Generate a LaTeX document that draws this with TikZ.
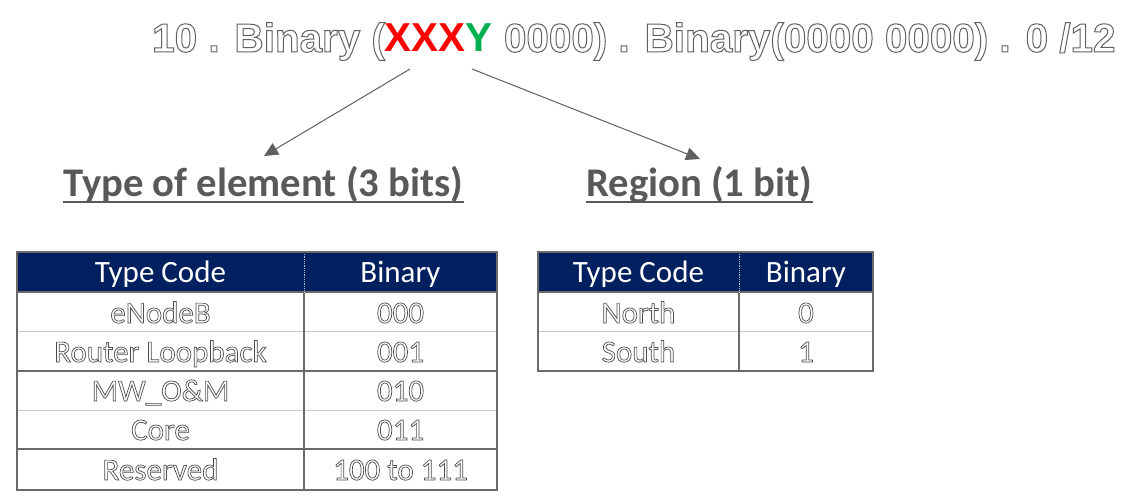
\documentclass[tikz,border=0pt]{standalone}
\usepackage{fontspec}
\setmainfont{Carlito}
\newfontfamily\titlefont{Liberation Sans}
\usetikzlibrary{arrows.meta}
\definecolor{navy}{HTML}{002060}
\definecolor{xred}{HTML}{FF0000}
\definecolor{xgreen}{HTML}{00B050}
\definecolor{headgray}{HTML}{595959}
\definecolor{arrowgray}{HTML}{606060}
\definecolor{darkline}{HTML}{6A6A6A}
\definecolor{lightline}{HTML}{C8C8C8}
\newcommand{\oltext}[3]{{\color{white}\special{pdf:literal direct q 2 Tr #1 w #2 #2 #2 RG}#3\special{pdf:literal direct Q}}}
\tikzset{
  titletext/.style={anchor=base west, inner sep=0pt, font=\titlefont\bfseries\fontsize{40.4}{41}\selectfont},
  heading/.style={anchor=base west, inner sep=0pt, text=headgray, font=\bfseries\fontsize{40.7}{41}\selectfont},
  headcell/.style={anchor=base, inner sep=0pt, text=white, font=\fontsize{31}{31}\selectfont},
  bodycell/.style={anchor=base, inner sep=0pt, font=\fontsize{31}{31}\selectfont},
  pointer/.style={draw=arrowgray, line width=1pt, -{Triangle[length=14pt,width=13pt]}},
  underl/.style={draw=headgray, line width=2pt},
  outer/.style={draw=darkline, line width=1.3pt},
  darkrule/.style={draw=darkline, line width=1.2pt},
  lightrule/.style={draw=lightline, line width=1pt},
}
\newcommand{\bodytxt}[1]{\oltext{0.7}{0.3}{#1}}
\begin{document}
\begin{tikzpicture}[x=1pt,y=-1pt]
\useasboundingbox (0,0) rectangle (1137,502);
\fill[white] (0,0) rectangle (1137,502);

% title
\node[titletext] (title) at (152,52) {\oltext{1}{0.38}{10 . Binary (}{\color{xred}XXX}{\color{xgreen}Y}\oltext{1}{0.38}{ 0000) . Binary(0000 0000) . 0 /12}};

% headings
\node[heading] (typeh) at (63,197) {Type of element (3 bits)};
\node[heading] (regh) at (586,197) {Region (1 bit)};
\draw[underl] ([yshift=-5pt]typeh.base west) -- ([yshift=-5pt]typeh.base east);
\draw[underl] ([yshift=-5pt]regh.base west) -- ([yshift=-5pt]regh.base east);

% arrows
\coordinate (s1) at (410,69);
\coordinate (e1) at (264,156);
\coordinate (s2) at (472,69);
\coordinate (e2) at (700,159);
\draw[pointer] (s1) -- (e1);
\draw[pointer] (s2) -- (e2);

% left table
\fill[navy] (17,252) rectangle (497,292);
\draw[lightrule] (17,332) -- (497,332);
\draw[lightrule] (17,410) -- (497,410);
\draw[darkrule] (17,292) -- (497,292);
\draw[darkrule] (17,371) -- (497,371);
\draw[darkrule] (17,449) -- (497,449);
\draw[darkrule] (304,292) -- (304,490);
\draw[white!70!navy, line width=0.8pt, densely dotted] (304,252) -- (304,292);
\draw[outer] (17,252) rectangle (497,490);

\node[headcell] (lh1) at (160.5,283) {Type Code};
\node[headcell] (lh2) at (400.5,283) {Binary};
\node[bodycell] (l11) at (160.5,323) {\bodytxt{eNodeB}};
\node[bodycell] (l12) at (400.5,323) {\bodytxt{000}};
\node[bodycell] (l21) at (160.5,362) {\bodytxt{Router Loopback}};
\node[bodycell] (l22) at (400.5,362) {\bodytxt{001}};
\node[bodycell] (l31) at (160.5,401) {\bodytxt{MW\_O\&M}};
\node[bodycell] (l32) at (400.5,401) {\bodytxt{010}};
\node[bodycell] (l41) at (160.5,440) {\bodytxt{Core}};
\node[bodycell] (l42) at (400.5,440) {\bodytxt{011}};
\node[bodycell] (l51) at (160.5,480) {\bodytxt{Reserved}};
\node[bodycell] (l52) at (400.5,480) {\bodytxt{100 to 111}};

% right table
\fill[navy] (538,252) rectangle (873,292);
\draw[lightrule] (538,332) -- (873,332);
\draw[darkrule] (538,292) -- (873,292);
\draw[darkrule] (739,292) -- (739,371);
\draw[white!70!navy, line width=0.8pt, densely dotted] (739,252) -- (739,292);
\draw[outer] (538,252) rectangle (873,371);

\node[headcell] (rh1) at (638.5,283) {Type Code};
\node[headcell] (rh2) at (806,283) {Binary};
\node[bodycell] (r11) at (638.5,323) {\bodytxt{North}};
\node[bodycell] (r12) at (806,323) {\bodytxt{0}};
\node[bodycell] (r21) at (638.5,362) {\bodytxt{South}};
\node[bodycell] (r22) at (806,362) {\bodytxt{1}};
\end{tikzpicture}
\end{document}
